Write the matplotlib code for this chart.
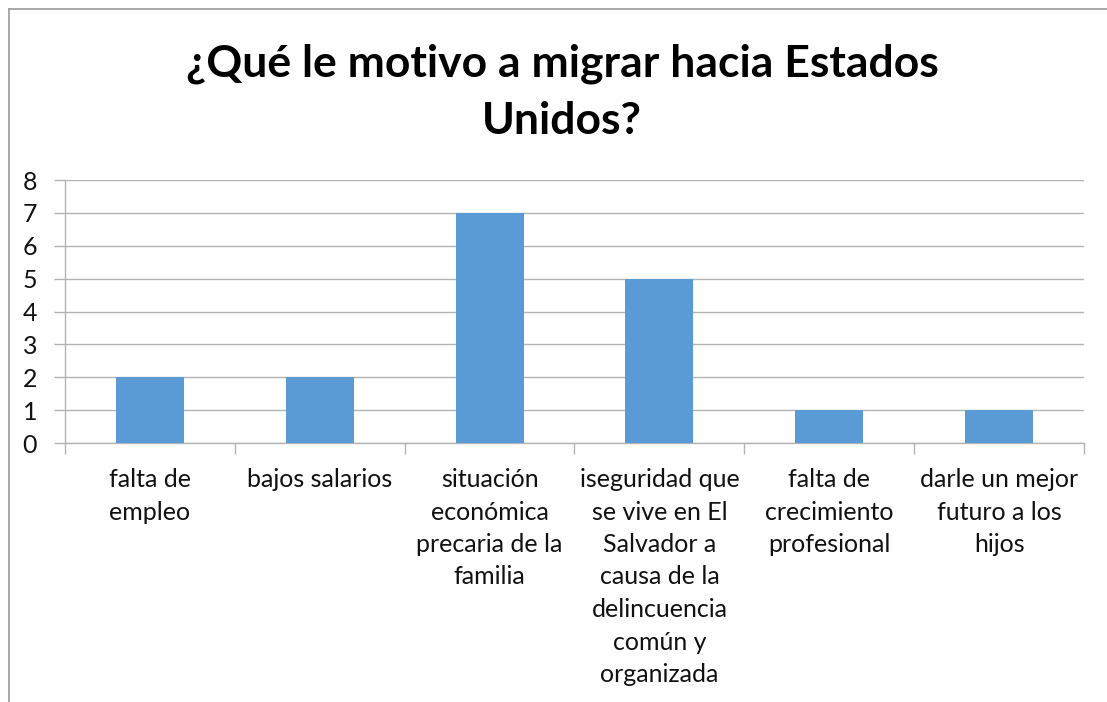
import matplotlib
matplotlib.use("Agg")
import matplotlib.pyplot as plt
from matplotlib.lines import Line2D

# ── data ──────────────────────────────────────────────────────────────────────
TITLE = "¿Qué le motivo a migrar hacia Estados\nUnidos?"
categories = [
    "falta de\nempleo",
    "bajos salarios",
    "situación\neconómica\nprecaria de la\nfamilia",
    "iseguridad que\nse vive en El\nSalvador a\ncausa de la\ndelincuencia\ncomún y\norganizada",
    "falta de\ncrecimiento\nprofesional",
    "darle un mejor\nfuturo a los\nhijos",
]
values = [2, 2, 7, 5, 1, 1]
y_ticks = list(range(0, 9))

# ── style ─────────────────────────────────────────────────────────────────────
BAR_COLOR  = "#5B9BD5"
GRID_COLOR = "#B3B3B3"
TEXT_COLOR = "#111111"
plt.rcParams["font.family"] = ["Lato", "DejaVu Sans"]

W, H = 1107, 702
fig = plt.figure(figsize=(W / 100, H / 100), dpi=100)
ax = fig.add_axes([65 / W, 1 - 443 / H, (1084 - 65) / W, (443 - 180) / H])

x = list(range(len(categories)))
ax.bar(x, values, width=0.4, color=BAR_COLOR, zorder=3)

ax.set_xlim(-0.5, len(categories) - 0.5)
ax.set_ylim(0, 8)
ax.set_yticks(y_ticks)
ax.set_yticklabels([str(t) for t in y_ticks], fontsize=18, color=TEXT_COLOR)
ax.yaxis.grid(True, color=GRID_COLOR, linewidth=1.0, zorder=0)
ax.tick_params(axis="y", length=8, width=1.0, color=GRID_COLOR, pad=12)

# category boundaries carry the x ticks; labels sit on the centres
ax.set_xticks([i - 0.5 for i in range(len(categories) + 1)])
ax.set_xticklabels([])
ax.tick_params(axis="x", length=8, width=1.0, color=GRID_COLOR)
ax.set_xticks(x, minor=True)
ax.set_xticklabels(categories, minor=True, fontsize=18, color=TEXT_COLOR,
                   linespacing=1.5)
ax.tick_params(axis="x", which="minor", length=0, pad=18)

for side in ["top", "right"]:
    ax.spines[side].set_visible(False)
for side in ["left", "bottom"]:
    ax.spines[side].set_color(GRID_COLOR)
    ax.spines[side].set_linewidth(1.0)

fig.text(562 / W, 1 - 92 / H, TITLE, ha="center", va="center",
         fontsize=32, fontweight="bold", linespacing=1.5)

# outer chart border (only left and top are inside the picture)
fig.add_artist(Line2D([9 / W, 9 / W], [0, 1 - 9 / H], color="#9a9a9a", lw=1.2))
fig.add_artist(Line2D([9 / W, 1], [1 - 9 / H, 1 - 9 / H], color="#9a9a9a", lw=1.2))

fig.savefig("out.png", dpi=100)
